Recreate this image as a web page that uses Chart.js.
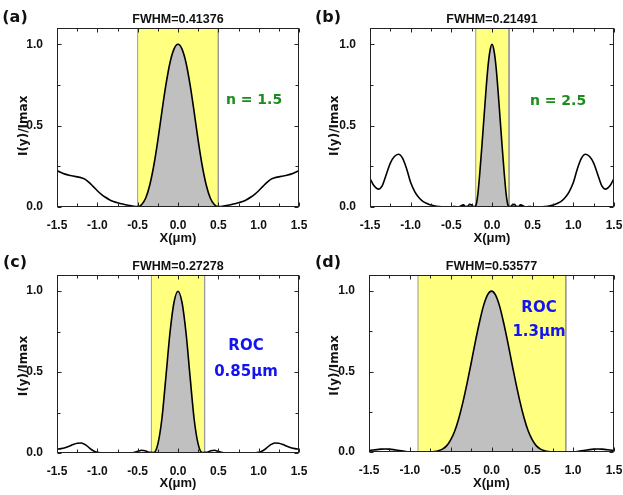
<!DOCTYPE html>
<html>
<head>
<meta charset="utf-8">
<script src="https://cdn.jsdelivr.net/npm/chart.js@4/dist/chart.umd.min.js"></script>
<style>
  body { margin: 0; width: 623px; height: 495px; position: relative; overflow: hidden; background: #fff; }
  canvas { position: absolute; }
  .txt { position: absolute; font-family: "DejaVu Sans", sans-serif; font-weight: bold; line-height: 1;
         white-space: nowrap; transform: translate(-50%, -50%); }
  .green { color: #1c8c1c; font-size: 14px; }
  .blue { color: #1414f0; font-size: 15px; }
  .letter { font-size: 16px; color: #111; }
</style>
</head>
<body>
<canvas id="ca" width="311" height="247" style="left:0;top:0"></canvas>
<canvas id="cb" width="312" height="247" style="left:311px;top:0"></canvas>
<canvas id="cc" width="311" height="248" style="left:0;top:247px"></canvas>
<canvas id="cd" width="312" height="248" style="left:311px;top:247px"></canvas>

<div class="txt letter" style="left:15px;top:17px">(a)</div>
<div class="txt letter" style="left:328px;top:17px">(b)</div>
<div class="txt letter" style="left:15px;top:262px">(c)</div>
<div class="txt letter" style="left:328px;top:262px">(d)</div>
<div class="txt green" style="left:254px;top:99px">n = 1.5</div>
<div class="txt green" style="left:558px;top:100px">n = 2.5</div>
<div class="txt blue" style="left:246px;top:345px">ROC</div>
<div class="txt blue" style="left:246px;top:371px">0.85μm</div>
<div class="txt blue" style="left:539px;top:307px">ROC</div>
<div class="txt blue" style="left:539px;top:331px">1.3μm</div>

<script>
// x positions (um), 0.05 step, used by panels a, c, d
const xGrid = [-1.5,-1.45,-1.4,-1.35,-1.3,-1.25,-1.2,-1.15,-1.1,-1.05,-1.0,-0.95,-0.9,-0.85,-0.8,-0.75,-0.7,-0.65,-0.6,-0.55,
               -0.5,-0.45,-0.4,-0.35,-0.3,-0.25,-0.2,-0.15,-0.1,-0.05,0,0.05,0.1,0.15,0.2,0.25,0.3,0.35,0.4,0.45,
               0.5,0.55,0.6,0.65,0.7,0.75,0.8,0.85,0.9,0.95,1.0,1.05,1.1,1.15,1.2,1.25,1.3,1.35,1.4,1.45,1.5];

// finer grid near the centre for panel b
const xGridB = [-1.5,-1.45,-1.4,-1.35,-1.3,-1.25,-1.2,-1.15,-1.1,-1.05,-1.0,-0.95,-0.9,-0.85,-0.8,-0.75,-0.7,-0.65,-0.6,-0.55,-0.5,
                -0.475,-0.45,-0.425,-0.4,-0.375,-0.35,-0.325,-0.3,-0.275,-0.25,-0.225,-0.2,-0.175,-0.15,-0.125,-0.1,-0.075,-0.05,-0.025,
                0,0.025,0.05,0.075,0.1,0.125,0.15,0.175,0.2,0.225,0.25,0.275,0.3,0.325,0.35,0.375,0.4,0.425,0.45,0.475,
                0.5,0.55,0.6,0.65,0.7,0.75,0.8,0.85,0.9,0.95,1.0,1.05,1.1,1.15,1.2,1.25,1.3,1.35,1.4,1.45,1.5];

const yA = [0.224,0.212,0.202,0.195,0.19,0.185,0.18,0.17,0.15,0.125,0.1,0.078,0.06,0.045,0.034,0.026,0.02,0.014,0.009,0.004,
            0.002,0.015,0.055,0.135,0.255,0.41,0.585,0.75,0.885,0.97,1.0,0.97,0.885,0.75,0.585,0.41,0.255,0.135,0.055,0.015,
            0.002,0.004,0.009,0.014,0.02,0.026,0.034,0.045,0.06,0.078,0.1,0.125,0.15,0.17,0.18,0.185,0.19,0.195,0.202,0.212,0.224];

const yB = [0.175,0.13,0.11,0.13,0.2,0.27,0.31,0.324,0.3,0.235,0.15,0.095,0.058,0.034,0.022,0.012,0.006,0.003,0.001,0.0,0.001,
            0.003,0.003,0.001,0.002,0.01,0.013,0.003,0.004,0.016,0.012,0.002,0.008,0.075,0.21,0.37,0.54,0.71,0.86,0.96,
            1.0,0.96,0.86,0.71,0.54,0.37,0.21,0.075,0.008,0.002,0.012,0.016,0.004,0.003,0.013,0.01,0.002,0.001,0.003,0.003,
            0.001,0.0,0.001,0.003,0.006,0.012,0.022,0.034,0.058,0.095,0.15,0.235,0.3,0.324,0.31,0.27,0.2,0.13,0.11,0.13,0.175];

const yC = [0.024,0.027,0.033,0.042,0.052,0.06,0.062,0.052,0.032,0.014,0.004,0.001,0.0,0.0,0.0,0.0,0.0,0.0,0.001,0.003,
            0.01,0.017,0.012,0.004,0.003,0.055,0.21,0.47,0.74,0.93,1.0,0.93,0.74,0.47,0.21,0.055,0.003,0.004,0.012,0.017,
            0.01,0.003,0.001,0.0,0.0,0.0,0.0,0.0,0.0,0.001,0.004,0.014,0.032,0.052,0.062,0.06,0.052,0.042,0.033,0.027,0.024];

const yD = [0.009,0.012,0.015,0.018,0.019,0.018,0.015,0.011,0.007,0.003,0.001,0.0,0.0,0.0,0.0,0.001,0.003,0.008,0.018,0.038,
            0.075,0.13,0.21,0.31,0.425,0.55,0.68,0.8,0.905,0.975,1.0,0.975,0.905,0.8,0.68,0.55,0.425,0.31,0.21,0.13,
            0.075,0.038,0.018,0.008,0.003,0.001,0.0,0.0,0.0,0.0,0.001,0.003,0.007,0.011,0.015,0.018,0.019,0.018,0.015,0.012,0.009];

// highlighted FWHM windows (um)
const bandA = [-0.5, 0.5];
const bandB = [-0.2, 0.21];
const bandC = [-0.33, 0.33];
const bandD = [-0.9, 0.91];

const titles = ['FWHM=0.41376', 'FWHM=0.21491', 'FWHM=0.27278', 'FWHM=0.53577'];

const xLabels = [-1.5, -1.0, -0.5, 0.0, 0.5, 1.0, 1.5];
const yLabels = [0.0, 0.5, 1.0];
const xMarks = [-1.5,-1.25,-1.0,-0.75,-0.5,-0.25,0,0.25,0.5,0.75,1.0,1.25,1.5];
const yMarks = [0,0.25,0.5,0.75,1.0];
const yTop = 1.1;

const ARIAL = '"Liberation Sans", Arial, sans-serif';
const DEJAVU = '"DejaVu Sans", sans-serif';

// inward ticks and box frame
const frameTicks = {
  id: 'frameTicks',
  afterDatasetsDraw(chart) {
    const { ctx, chartArea: a, scales: { x, y } } = chart;
    const l = Math.round(a.left) + 0.5, r = Math.round(a.right) - 0.5;
    const t = Math.round(a.top) + 0.5, b = Math.round(a.bottom) - 0.5;
    ctx.save();
    ctx.strokeStyle = '#222';
    ctx.lineWidth = 1;
    ctx.beginPath();
    xMarks.forEach(v => {
      const px = Math.round(x.getPixelForValue(v)) + 0.5;
      const len = xLabels.includes(v) ? 4 : 3;
      ctx.moveTo(px, b); ctx.lineTo(px, b - len);
      ctx.moveTo(px, t); ctx.lineTo(px, t + len);
    });
    yMarks.forEach(v => {
      const py = Math.round(y.getPixelForValue(v)) + 0.5;
      const len = yLabels.includes(v) ? 4 : 3;
      ctx.moveTo(l, py); ctx.lineTo(l + len, py);
      ctx.moveTo(r, py); ctx.lineTo(r - len, py);
    });
    ctx.stroke();
    ctx.strokeRect(l, t, r - l, b - t);
    ctx.restore();
  }
};

function makePanel(id, xs, ys, band, title, geo) {
  const curve = xs.map((v, i) => ({ x: v, y: ys[i] }));
  const inside = curve.filter(p => p.x >= band[0] && p.x <= band[1]);
  const rect = [
    { x: band[0], y: 0 }, { x: band[0], y: yTop },
    { x: band[1], y: yTop }, { x: band[1], y: 0 }
  ];

  new Chart(document.getElementById(id), {
    type: 'line',
    data: {
      datasets: [
        { data: curve, borderColor: '#000', borderWidth: 1.6, pointRadius: 0,
          cubicInterpolationMode: 'monotone', fill: false, order: 1 },
        { data: inside, borderWidth: 0, borderColor: 'rgba(0,0,0,0)', backgroundColor: '#c0c0c0',
          pointRadius: 0, cubicInterpolationMode: 'monotone', fill: 'origin', order: 2 },
        { data: rect, borderColor: '#9a9a9a', borderWidth: 1, backgroundColor: '#ffff80',
          pointRadius: 0, tension: 0, fill: 'origin', order: 3 }
      ]
    },
    options: {
      responsive: false,
      animation: false,
      events: [],
      layout: { padding: { left: 0, right: geo.rW, top: 0, bottom: 0 } },
      plugins: {
        legend: { display: false },
        tooltip: { enabled: false },
        title: {
          display: true, text: title, fullSize: false, color: '#111',
          font: { family: ARIAL, size: 12.5, weight: 'bold' },
          padding: { top: 12, bottom: 1 }
        }
      },
      scales: {
        x: {
          type: 'linear', min: -1.5, max: 1.5,
          afterBuildTicks: s => { s.ticks = xLabels.map(v => ({ value: v })); },
          afterFit: s => { s.height = geo.bottomH; s.paddingLeft = 0; s.paddingRight = 0; },
          grid: { display: false },
          border: { display: false },
          ticks: {
            color: '#111', padding: 3, maxRotation: 0, autoSkip: false,
            font: { family: ARIAL, size: 12, weight: 'bold' },
            callback: v => v.toFixed(1)
          },
          title: {
            display: true, text: 'X(μm)', color: '#111',
            font: { family: ARIAL, size: 13, weight: 'bold' },
            padding: { top: 0, bottom: geo.xtPad }
          }
        },
        y: {
          min: 0, max: yTop,
          afterBuildTicks: s => { s.ticks = yLabels.map(v => ({ value: v })); },
          afterFit: s => { s.width = geo.yW; s.paddingTop = 0; s.paddingBottom = 0; },
          grid: { display: false },
          border: { display: false },
          ticks: {
            color: '#111', padding: 6,
            font: { family: ARIAL, size: 12, weight: 'bold' },
            callback: v => v.toFixed(1)
          },
          title: {
            // trailing spaces nudge the rotated label down like in the original figure
            display: true, text: 'I(y)/Imax' + ' '.repeat(geo.ySp), color: '#111',
            font: { family: DEJAVU, size: 12, weight: 'bold' },
            padding: { top: 17, bottom: 0 }
          }
        }
      }
    },
    plugins: [frameTicks]
  });
}

makePanel('ca', xGrid, yA, bandA, titles[0], { yW: 57, rW: 12, bottomH: 40, xtPad: 1, ySp: 4 });
makePanel('cb', xGridB, yB, bandB, titles[1], { yW: 59, rW: 9, bottomH: 40, xtPad: 1, ySp: 4 });
makePanel('cc', xGrid, yC, bandC, titles[2], { yW: 57, rW: 12, bottomH: 42, xtPad: 4, ySp: 1 });
makePanel('cd', xGrid, yD, bandD, titles[3], { yW: 58, rW: 9, bottomH: 43, xtPad: 4, ySp: 1 });
</script>
</body>
</html>
